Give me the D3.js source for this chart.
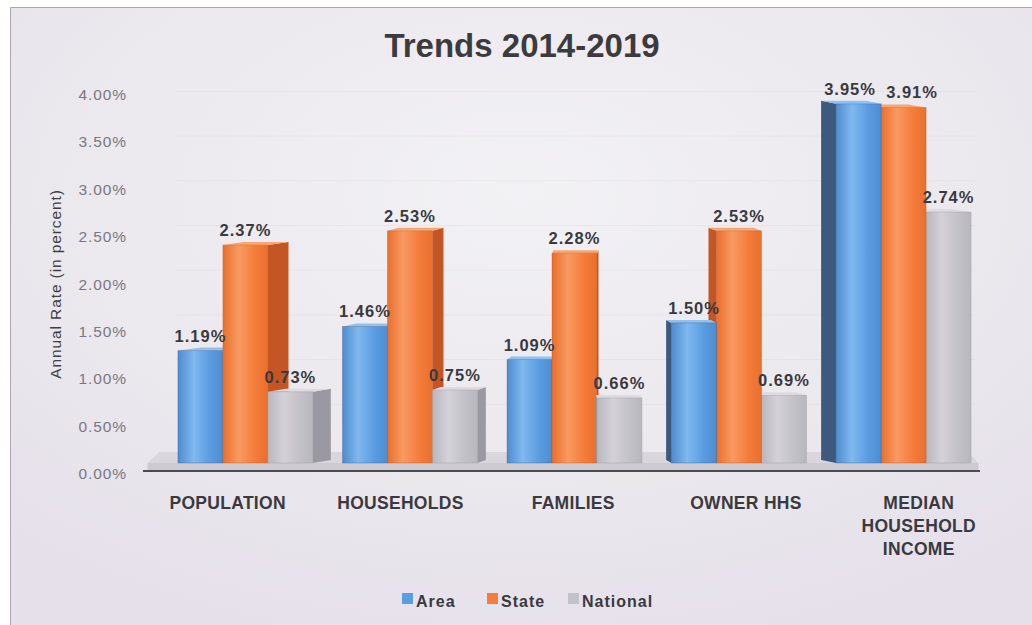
<!DOCTYPE html>
<html>
<head>
<meta charset="utf-8">
<script src="https://cdn.jsdelivr.net/npm/d3@7"></script>
<style>
  html, body { margin: 0; padding: 0; background: #ffffff; }
  svg { display: block; font-family: "Liberation Sans", Arial, sans-serif; }
</style>
</head>
<body>
<svg id="chart" width="1032" height="625"></svg>
<script>
// Annual growth rates, 2014-2019
const categories = ["POPULATION", "HOUSEHOLDS", "FAMILIES", "OWNER HHS", "MEDIAN HOUSEHOLD INCOME"];
const categoryLines = [["POPULATION"], ["HOUSEHOLDS"], ["FAMILIES"], ["OWNER HHS"], ["MEDIAN", "HOUSEHOLD", "INCOME"]];
const seriesNames = ["Area", "State", "National"];
const areaValues = [1.19, 1.46, 1.09, 1.50, 3.95];
const stateValues = [2.37, 2.53, 2.28, 2.53, 3.91];
const nationalValues = [0.73, 0.75, 0.66, 0.69, 2.74];
const yTicks = [0, 0.5, 1, 1.5, 2, 2.5, 3, 3.5, 4];

const seriesValues = [areaValues, stateValues, nationalValues];

const palette = {
  Area:     { base: "#5b9de2", light: "#80b8ef", dark: "#4e8cd0", side: "#3d5a7e", top: "#8fc2f1", legend: "#5b9de2" },
  State:    { base: "#f47d3c", light: "#f89a62", dark: "#e96f2c", side: "#c45524", top: "#f9a670", legend: "#f47d3c" },
  National: { base: "#c4c2c9", light: "#d4d2d8", dark: "#b9b7be", side: "#9a98a0", top: "#dddbe1", legend: "#c4c2c9" }
};

const svg = d3.select("#chart");
const W = 1032, H = 625;

// ---- background and frame ----
const defs = svg.append("defs");
const bgGrad = defs.append("radialGradient").attr("id", "bg")
  .attr("cx", "50%").attr("cy", "30%").attr("r", "75%");
bgGrad.append("stop").attr("offset", "0%").attr("stop-color", "#f2f1f4");
bgGrad.append("stop").attr("offset", "60%").attr("stop-color", "#ebe8ee");
bgGrad.append("stop").attr("offset", "100%").attr("stop-color", "#e5e0ea");

svg.append("rect").attr("width", W).attr("height", H).attr("fill", "#ffffff");
svg.append("rect").attr("x", 10).attr("y", 7).attr("width", W - 10).attr("height", H - 7).attr("fill", "url(#bg)");
svg.append("path").attr("d", `M10.5,${H} V7.5 H${W}`).attr("fill", "none").attr("stroke", "#aaa6b2").attr("stroke-width", 1);

// face gradients for each series
seriesNames.forEach(name => {
  const c = palette[name];
  const g = defs.append("linearGradient").attr("id", "face-" + name)
    .attr("x1", "0%").attr("x2", "100%").attr("y1", "0%").attr("y2", "0%");
  g.append("stop").attr("offset", "0%").attr("stop-color", c.dark);
  g.append("stop").attr("offset", "35%").attr("stop-color", c.light);
  g.append("stop").attr("offset", "70%").attr("stop-color", c.base);
  g.append("stop").attr("offset", "100%").attr("stop-color", c.dark);
});

// ---- title ----
svg.append("text")
  .attr("x", 522).attr("y", 57)
  .attr("text-anchor", "middle")
  .attr("font-size", 33).attr("font-weight", "bold")
  .attr("fill", "#3b3b3d")
  .text("Trends 2014-2019");

// ---- scales ----
// axis scale (tick labels along the side wall)
const yAxisScale = d3.scaleLinear().domain([0, 4]).range([473, 94]);
// projected bar-front scale (3D floor sits slightly behind the axis plane)
const yBar = d3.scaleLinear().domain([0, 4]).range([457, 99.4]);
const floorFront = 463;

const x0 = d3.scaleBand().domain(categories).range([161.5, 987.5])
  .paddingInner(0.18).paddingOuter(0.1);
const x1 = d3.scaleBand().domain(seriesNames).range([0, x0.bandwidth()]).padding(0);

// perspective: side faces open away from the viewing centre
const vx = 600, kDepth = 0.058, dyDepth = -3;

// ---- faint back-wall gridlines ----
svg.append("g").selectAll("line")
  .data(yTicks.slice(1))
  .join("line")
  .attr("x1", 175).attr("x2", 975)
  .attr("y1", d => yBar(d) - 8).attr("y2", d => yBar(d) - 8)
  .attr("stroke", "#000").attr("stroke-opacity", 0.03);

// ---- y tick labels ----
svg.append("g").selectAll("text")
  .data(yTicks)
  .join("text")
  .attr("x", 127).attr("y", d => yAxisScale(d) + 6)
  .attr("text-anchor", "end")
  .attr("font-size", 15.5).attr("letter-spacing", 0.9)
  .attr("fill", "#7a787e")
  .text(d => d3.format(".2f")(d) + "%");

// ---- y axis title ----
svg.append("text")
  .attr("transform", "translate(61,284) rotate(-90)")
  .attr("text-anchor", "middle")
  .attr("font-size", 15.5).attr("letter-spacing", 0.9)
  .attr("fill", "#3f3f44")
  .text("Annual Rate (in percent)");

// ---- floor ----
const floorL = x0.range()[0] - 14, floorR = x0.range()[1] - 9;
svg.append("path")
  .attr("d", `M${floorL + 12},452 L${floorR - 10},452 L${floorR},463 L${floorL},463 Z`)
  .attr("fill", "#d9d7dd");
svg.append("rect")
  .attr("x", floorL).attr("y", 463).attr("width", floorR - floorL).attr("height", 7)
  .attr("fill", "#cdcbd1");
svg.append("line")
  .attr("x1", 143).attr("x2", 980).attr("y1", 471).attr("y2", 471)
  .attr("stroke", "#4d4b52").attr("stroke-width", 2);

// ---- bars ----
const bars = [];
categories.forEach((cat, ci) => {
  seriesNames.forEach((s, si) => {
    const x = x0(cat) + x1(s);
    const w = x1.bandwidth();
    const cx = x + w / 2;
    bars.push({ cat, s, si, v: seriesValues[si][ci], x, w, cx, dx: (vx - cx) * kDepth });
  });
});

// value-label positions: centred on the bar front, nudged apart when two
// neighbouring labels would sit on the same line
const labelW = 52;
categories.forEach(cat => {
  const group = bars.filter(b => b.cat === cat).sort((a, b) => a.si - b.si);
  group.forEach(b => { b.lx = b.cx; b.ly = yBar(b.v) - 9; });
  for (let i = 0; i < group.length - 1; i++) {
    const a = group[i], b = group[i + 1];
    const gap = (b.lx - a.lx) - labelW - 10;
    if (Math.abs(a.ly - b.ly) < 18 && gap < 0) {
      a.lx += gap / 2;
      b.lx -= gap / 2;
    }
  }
});

// paint from the outside in so nearer faces cover hidden sides
const drawOrder = bars.slice().sort((a, b) => Math.abs(b.cx - vx) - Math.abs(a.cx - vx));

const barG = svg.append("g");
drawOrder.forEach(b => {
  const c = palette[b.s];
  const top = yBar(b.v);
  const g = barG.append("g");
  const sideX = b.dx >= 0 ? b.x + b.w : b.x;
  // side face
  g.append("path")
    .attr("d", `M${sideX},${top} L${sideX + b.dx},${top + dyDepth} L${sideX + b.dx},${floorFront + dyDepth} L${sideX},${floorFront} Z`)
    .attr("fill", c.side);
  // top face
  g.append("path")
    .attr("d", `M${b.x},${top} L${b.x + b.dx},${top + dyDepth} L${b.x + b.w + b.dx},${top + dyDepth} L${b.x + b.w},${top} Z`)
    .attr("fill", c.top);
  // front face
  g.append("rect")
    .attr("x", b.x).attr("y", top)
    .attr("width", b.w).attr("height", floorFront - top)
    .attr("fill", `url(#face-${b.s})`)
    .attr("stroke", c.side).attr("stroke-opacity", 0.45).attr("stroke-width", 0.8);
});

// ---- value labels ----
const fmt = d => d3.format(".2f")(d) + "%";
svg.append("g").selectAll("text")
  .data(bars)
  .join("text")
  .attr("x", d => d.lx)
  .attr("y", d => d.ly)
  .attr("text-anchor", "middle")
  .attr("font-size", 16.5).attr("font-weight", "bold").attr("letter-spacing", 1)
  .attr("fill", "#3a393e")
  .text(d => fmt(d.v));

// ---- category labels ----
const catG = svg.append("g");
categories.forEach((cat, ci) => {
  const bc = x0(cat) + x0.bandwidth() / 2;
  const lx = vx + (bc - vx) * 1.05;
  const t = catG.append("text")
    .attr("x", lx).attr("y", 509)
    .attr("text-anchor", "middle")
    .attr("font-size", 17.5).attr("font-weight", "bold").attr("letter-spacing", 0.3)
    .attr("fill", "#3a393e");
  categoryLines[ci].forEach((line, li) => {
    t.append("tspan").attr("x", lx).attr("dy", li === 0 ? 0 : 23).text(line);
  });
});

// ---- legend ----
const legendX = [402, 487, 568];
const legend = svg.append("g");
seriesNames.forEach((s, i) => {
  legend.append("rect")
    .attr("x", legendX[i]).attr("y", 593)
    .attr("width", 11).attr("height", 11)
    .attr("fill", palette[s].legend);
  legend.append("text")
    .attr("x", legendX[i] + 14).attr("y", 607)
    .attr("font-size", 16).attr("font-weight", "bold").attr("letter-spacing", 1)
    .attr("fill", "#3a393e")
    .text(s);
});
</script>
</body>
</html>
